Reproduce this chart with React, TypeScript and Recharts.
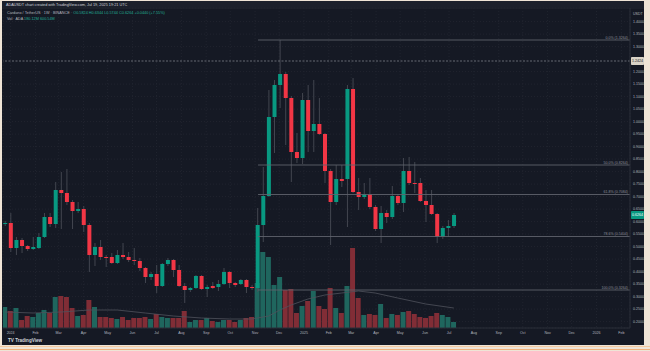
import {
  ComposedChart,
  Bar,
  Line,
  XAxis,
  YAxis,
  CartesianGrid,
  ReferenceLine,
  Cell,
} from 'recharts';

// weekly candles, ADA / USDT, first bar = week of Dec 25 2023
const opens = [
  0.5904, 0.5944, 0.4944, 0.5264, 0.5024, 0.4904, 0.4944, 0.5384, 0.6184, 0.5904,
  0.7264, 0.7144, 0.6784, 0.6424, 0.6504, 0.5864, 0.4664, 0.4984, 0.4584, 0.4584,
  0.4344, 0.4664, 0.4584, 0.4464, 0.4424, 0.4144, 0.3784, 0.3904, 0.3424, 0.4304,
  0.4464, 0.4064, 0.3424, 0.3264, 0.3344, 0.3824, 0.3304, 0.3424, 0.3384, 0.3504,
  0.3984, 0.3544, 0.3504, 0.3664, 0.3384, 0.3344, 0.5864, 0.7024, 1.0184, 1.1464,
  1.1904, 1.0944, 0.8784, 0.8544, 1.0864, 0.9624, 0.9904, 0.9504, 0.8024, 0.6784,
  0.7704, 0.7704, 1.1304, 0.7184, 0.6984, 0.7104, 0.6584, 0.5704, 0.6344, 0.6184,
  0.7024, 0.6744, 0.8024, 0.7544, 0.7544, 0.6824, 0.6664, 0.6304, 0.5384, 0.5744,
  0.5824,
];
const highs = [
  0.6024, 0.6344, 0.5384, 0.5344, 0.5064, 0.5384, 0.5544, 0.6344, 0.6344, 0.7584,
  0.7984, 0.8104, 0.6864, 0.6784, 0.6624, 0.5944, 0.5144, 0.5264, 0.4664, 0.4744,
  0.4864, 0.5144, 0.4784, 0.4944, 0.4544, 0.4184, 0.3984, 0.4264, 0.4344, 0.4544,
  0.4504, 0.4264, 0.3544, 0.3384, 0.3864, 0.3864, 0.3464, 0.3584, 0.3664, 0.4144,
  0.4024, 0.3584, 0.3704, 0.3704, 0.3464, 0.6544, 0.8184, 1.1264, 1.1664, 1.3264,
  1.1984, 1.1024, 0.9544, 1.1144, 1.1464, 1.1664, 1.0944, 0.9544, 0.8104, 0.8264,
  0.8264, 1.1464, 1.1744, 0.7744, 0.7544, 0.7744, 0.6664, 0.6624, 0.6464, 0.7424,
  0.7104, 0.8544, 0.8584, 0.8384, 0.7744, 0.7264, 0.7264, 0.6344, 0.5824, 0.6064,
  0.6344,
];
const lows = [
  0.5824, 0.4784, 0.4664, 0.4744, 0.4824, 0.4864, 0.4904, 0.5344, 0.5784, 0.5744,
  0.5704, 0.6664, 0.5704, 0.6344, 0.5584, 0.3984, 0.4224, 0.4464, 0.4184, 0.4304,
  0.4304, 0.4504, 0.4384, 0.4264, 0.4024, 0.3544, 0.3664, 0.3144, 0.3384, 0.4224,
  0.3784, 0.3384, 0.2744, 0.3184, 0.3304, 0.3264, 0.2984, 0.3304, 0.3224, 0.3464,
  0.3344, 0.3384, 0.3464, 0.3144, 0.3264, 0.3184, 0.5184, 0.6984, 0.8744, 1.0544,
  0.9064, 0.7584, 0.8344, 0.8304, 0.8784, 0.8784, 0.9464, 0.7544, 0.5064, 0.6664,
  0.7384, 0.5784, 0.7144, 0.6464, 0.6904, 0.6504, 0.5624, 0.5144, 0.5944, 0.6104,
  0.6664, 0.6384, 0.7464, 0.7144, 0.6784, 0.5984, 0.6264, 0.5144, 0.5304, 0.5384,
  0.5744,
];
const closes = [
  0.5944, 0.4944, 0.5264, 0.5024, 0.4904, 0.4984, 0.5384, 0.6184, 0.5904, 0.7264,
  0.7144, 0.6784, 0.6424, 0.6504, 0.5864, 0.4664, 0.4984, 0.4584, 0.4544, 0.4344,
  0.4664, 0.4584, 0.4464, 0.4424, 0.4144, 0.3784, 0.3904, 0.3424, 0.4304, 0.4464,
  0.4064, 0.3424, 0.3264, 0.3344, 0.3824, 0.3304, 0.3384, 0.3344, 0.3504, 0.3984,
  0.3544, 0.3464, 0.3664, 0.3384, 0.3344, 0.5864, 0.7024, 1.0184, 1.1464, 1.1904,
  1.0944, 0.8784, 0.8544, 1.0864, 0.9624, 0.9904, 0.9504, 0.8024, 0.6784, 0.7704,
  0.7624, 1.1304, 0.7184, 0.6984, 0.7104, 0.6584, 0.5704, 0.6344, 0.6184, 0.7024,
  0.6744, 0.8024, 0.7544, 0.7504, 0.6824, 0.6664, 0.6304, 0.5384, 0.5744, 0.5824,
  0.6264,
];
// volume, millions of ADA
const volumes = [
  630, 510, 600, 240, 360, 330, 450, 540, 450, 930,
  960, 930, 600, 360, 390, 840, 630, 330, 330, 300,
  270, 330, 240, 300, 300, 330, 270, 420, 330, 300,
  300, 300, 510, 180, 240, 240, 300, 210, 180, 240,
  240, 180, 240, 300, 330, 1350, 2280, 2130, 1290, 1530,
  1140, 1170, 450, 660, 810, 1110, 660, 570, 1200, 600,
  450, 1260, 2400, 900, 390, 420, 390, 720, 300, 420,
  390, 480, 510, 420, 330, 300, 360, 450, 390, 330,
  180,
];
// volume moving average, read at some bars
const maBars = [0, 5, 10, 15, 20, 25, 30, 35, 40, 44, 47, 49, 51, 54, 57, 60, 63, 66, 70, 75, 80];
const maValues = [480, 450, 480, 540, 540, 450, 360, 300, 270, 270, 360, 540, 690, 870, 990, 1050, 1110, 1050, 900, 720, 600];

// month ticks in weeks since Dec 25 2023
const monthTicks = [
  1, 5.43, 9.57, 14, 18.29, 22.71, 27, 31.43, 35.86, 40.14, 44.57, 48.86,
  53.29, 57.71, 61.71, 66.14, 70.43, 74.86, 79.14, 83.57, 88, 92.29, 96.71, 101, 105.43, 109.86,
];
const monthLabels = [
  '2024', 'Feb', 'Mar', 'Apr', 'May', 'Jun', 'Jul', 'Aug', 'Sep', 'Oct', 'Nov', 'Dec',
  '2025', 'Feb', 'Mar', 'Apr', 'May', 'Jun', 'Jul', 'Aug', 'Sep', 'Oct', 'Nov', 'Dec', '2026', 'Feb',
];
// 1.25 is hidden behind the line label on the scale
const priceTicks = [
  0.2, 0.25, 0.3, 0.35, 0.4, 0.45, 0.5, 0.55, 0.6, 0.65, 0.7, 0.75, 0.8,
  0.85, 0.9, 0.95, 1.0, 1.05, 1.1, 1.15, 1.2, 1.3, 1.35, 1.4,
];

const fibRatios = [0, 0.5, 0.618, 0.786, 1];
const fibHigh = 1.3264;
const fibLow = 0.3264;
const fibStart = 45.1;
const alertPrice = 1.2424;

const GREEN = '#089981';
const RED = '#f23645';
const WICK = '#4e515b';
const X_DOMAIN: [number, number] = [-0.36, 111.4];

const data = opens.map((o, i) => {
  const k = maBars.indexOf(i);
  return {
    i,
    o,
    h: highs[i],
    l: lows[i],
    c: closes[i],
    v: volumes[i],
    ma: k >= 0 ? maValues[k] : null,
  };
});
const lastPrice = closes[closes.length - 1];

function Candle(props: any) {
  const { x, y, width, height, payload } = props;
  if (!payload) return null;
  const { o, h, l, c } = payload;
  const top = Math.min(y, y + height);
  const span = Math.abs(height);
  const py = (p: number) => top + ((h - p) / (h - l)) * span;
  const cx = x + width / 2;
  const bt = Math.min(py(o), py(c));
  const bb = Math.max(py(o), py(c));
  return (
    <g>
      <line x1={cx} x2={cx} y1={top} y2={top + span} stroke={WICK} strokeWidth={0.8} />
      <rect x={x} y={bt} width={width} height={Math.max(bb - bt, 0.8)} fill={c >= o ? GREEN : RED} />
    </g>
  );
}

function fibLabel(text: string) {
  return (props: any) => {
    const vb = props.viewBox;
    if (!vb) return null;
    return (
      <text x={vb.x + vb.width - 2} y={vb.y - 1.5} textAnchor="end" fontSize={3.6} fill="#8b8e98" fontFamily="Liberation Sans">
        {text}
      </text>
    );
  };
}

function axisBox(text: string, bg: string, fg: string) {
  return (props: any) => {
    const vb = props.viewBox;
    if (!vb) return null;
    const x0 = vb.x + vb.width + 1;
    return (
      <g>
        <rect x={x0} y={vb.y - 4} width={13} height={8} fill={bg} rx={0.8} />
        <text x={x0 + 6.5} y={vb.y + 1.3} textAnchor="middle" fontSize={3.6} fill={fg} fontFamily="Liberation Sans">
          {text}
        </text>
      </g>
    );
  };
}

export default function App() {
  const font = 'Liberation Sans, Arial, sans-serif';
  return (
    <div style={{ position: 'absolute', left: 0, top: 0, width: 650, height: 351, background: '#efe4d6', overflow: 'hidden' }}>
      <div style={{ position: 'absolute', left: 2, top: 1, width: 642, height: 344, background: '#151924' }} />
      <div style={{ position: 'absolute', left: 2, top: 1, width: 642, height: 8, background: '#1c202b' }} />
      <div style={{ position: 'absolute', left: 0, top: 346, width: 650, height: 1, background: '#f2c9a0' }} />
      <div style={{ position: 'absolute', left: 0, top: 348.5, width: 650, height: 1.5, background: '#f0b07a' }} />
      <div style={{ position: 'absolute', left: 0, top: 0 }}>
        <ComposedChart width={650} height={351} data={data} margin={{ top: 8, right: 6, bottom: 13, left: 3 }}>
          <CartesianGrid xAxisId="p" yAxisId="price" stroke="#20242f" strokeDasharray="1 2" />
          <XAxis
            xAxisId="p"
            type="number"
            dataKey="i"
            domain={X_DOMAIN}
            allowDataOverflow
            ticks={monthTicks}
            interval={0}
            tickFormatter={(v: number) => monthLabels[monthTicks.indexOf(v)] ?? ''}
            tick={{ fill: '#b2b5be', fontSize: 3.6, fontFamily: font }}
            tickSize={0}
            tickMargin={3}
            axisLine={{ stroke: '#2a2e39' }}
            height={10}
          />
          <XAxis xAxisId="v" type="number" dataKey="i" domain={X_DOMAIN} allowDataOverflow hide />
          <YAxis
            yAxisId="price"
            orientation="right"
            domain={[0.1744, 1.4544]}
            allowDataOverflow
            ticks={priceTicks}
            interval={0}
            tickFormatter={(v: number) => v.toFixed(4)}
            tick={{ fill: '#b2b5be', fontSize: 3.6, fontFamily: font }}
            tickSize={0}
            tickMargin={3}
            axisLine={{ stroke: '#2a2e39' }}
            width={14}
          />
          <YAxis yAxisId="vol" domain={[0, 9600]} allowDataOverflow hide />
          <Bar xAxisId="v" yAxisId="vol" dataKey="v" barSize={5} isAnimationActive={false}>
            {data.map((d) => (
              <Cell key={d.i} fill={d.c >= d.o ? '#1f665e' : '#812d36'} />
            ))}
          </Bar>
          <Line
            xAxisId="v"
            yAxisId="vol"
            dataKey="ma"
            connectNulls
            dot={false}
            stroke="#4f525c"
            strokeWidth={0.8}
            isAnimationActive={false}
          />
          {fibRatios.map((r) => {
            const p = fibHigh - r * (fibHigh - fibLow);
            const txt = `${(r * 100).toFixed(1)}% (${p.toFixed(4)})`;
            return (
              <ReferenceLine
                key={r}
                xAxisId="p"
                yAxisId="price"
                segment={[{ x: fibStart, y: p }, { x: X_DOMAIN[1], y: p }]}
                stroke="#5f626c"
                strokeWidth={0.9}
                label={fibLabel(txt)}
              />
            );
          })}
          <ReferenceLine
            xAxisId="p"
            yAxisId="price"
            y={alertPrice}
            stroke="#8a8d96"
            strokeWidth={0.7}
            strokeDasharray="2 1.5"
            label={axisBox(alertPrice.toFixed(4), '#d9d3c7', '#131722')}
          />
          <ReferenceLine
            xAxisId="p"
            yAxisId="price"
            y={lastPrice}
            stroke="transparent"
            label={axisBox(lastPrice.toFixed(4), GREEN, '#ffffff')}
          />
          <Bar
            xAxisId="p"
            yAxisId="price"
            dataKey={(d: any) => [d.l, d.h]}
            barSize={4}
            shape={Candle}
            isAnimationActive={false}
          />
        </ComposedChart>
      </div>
      <svg width={650} height={351} style={{ position: 'absolute', left: 0, top: 0, pointerEvents: 'none' }}>
        <text x={6} y={6.3} fontSize={3.8} fill="#d1d4dc" fontFamily={font}>
          ADAUSDT chart created with TradingView.com, Jul 19, 2025 19:21 UTC
        </text>
        <text x={7} y={13.5} fontSize={3.8} fontFamily={font}>
          <tspan fill="#b2b5be">Cardano / TetherUS · 1W · BINANCE · </tspan>
          <tspan fill="#22ab94">O0.5824 H0.6344 L0.5744 C0.6264 +0.0440 (+7.55%)</tspan>
        </text>
        <text x={7} y={19.5} fontSize={3.8} fontFamily={font}>
          <tspan fill="#b2b5be">Vol · ADA </tspan>
          <tspan fill="#22ab94">180.12M 600.54M</tspan>
        </text>
        <text x={633} y={14.5} fontSize={3.6} fill="#b2b5be" fontFamily={font}>
          USDT
        </text>
        <text x={8} y={342} fontSize={4.6} fontWeight="bold" fill="#d1d4dc" fontFamily={font}>
          TV TradingView
        </text>
      </svg>
    </div>
  );
}
